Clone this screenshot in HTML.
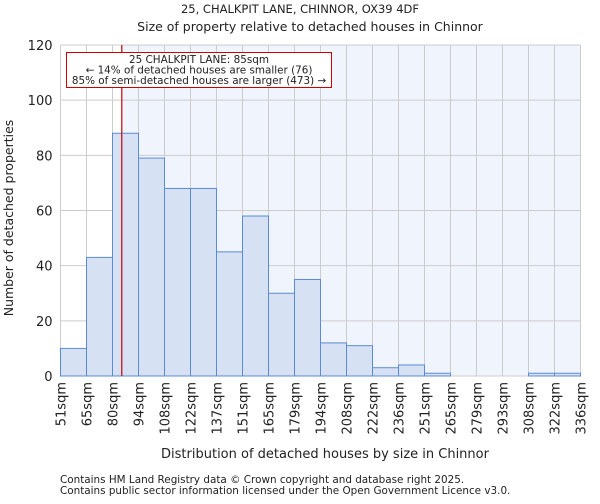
<!DOCTYPE html>
<html><head><meta charset="utf-8"><style>
body{margin:0;background:#fff;font-family:"DejaVu Sans","Liberation Sans",sans-serif}
svg text{font-family:"DejaVu Sans","Liberation Sans",sans-serif;fill:#222}
</style></head><body>
<svg id="c" width="600" height="500" xmlns="http://www.w3.org/2000/svg">
<text x="300" y="13" text-anchor="middle" font-size="11.5">25, CHALKPIT LANE, CHINNOR, OX39 4DF</text>
<text x="310" y="31" text-anchor="middle" font-size="12.5">Size of property relative to detached houses in Chinnor</text>
<rect x="60.5" y="45" width="520" height="331" fill="#f0f4fc"/>
<rect id="wbg" x="60.5" y="45" width="61" height="331" fill="#fff"/>
<g id="grid"></g><g id="bars"></g><g id="axes"></g>
<text transform="translate(13,218) rotate(-90)" text-anchor="middle" font-size="12.5">Number of detached properties</text>
<text x="325" y="458" text-anchor="middle" font-size="13">Distribution of detached houses by size in Chinnor</text>
<text x="60" y="483" font-size="10.4" fill="#444">Contains HM Land Registry data © Crown copyright and database right 2025.</text>
<text x="60" y="494" font-size="10.4" fill="#444">Contains public sector information licensed under the Open Government Licence v3.0.</text>
</svg>
<script>
const labels=["51sqm","65sqm","80sqm","94sqm","108sqm","122sqm","137sqm","151sqm","165sqm","179sqm","194sqm","208sqm","222sqm","236sqm","251sqm","265sqm","279sqm","293sqm","308sqm","322sqm","336sqm"];
const counts=[10,43,88,79,68,68,45,58,30,35,12,11,3,4,1,0,0,0,1,1];
const yTicks=[0,20,40,60,80,100,120];
const propertySize=85;
const edgeValues=[51,65,80,94,108,122,137,151,165,179,194,208,222,236,251,265,279,293,308,322,336];
const NS="http://www.w3.org/2000/svg";
const x0=60.5,x1=580.5,y0=376,y1=45,yMax=120;
const n=counts.length,bw=(x1-x0)/n;
const xs=i=>x0+i*bw, ys=v=>y0-(v/yMax)*(y0-y1);
function mk(t,a,p){const e=document.createElementNS(NS,t);for(const k in a)e.setAttribute(k,a[k]);p.appendChild(e);return e;}
const g=document.getElementById('grid'),b=document.getElementById('bars'),ax=document.getElementById('axes');
let k=0;while(k<edgeValues.length-2&&edgeValues[k+1]<=propertySize)k++;
const px=xs(k)+bw*(propertySize-edgeValues[k])/(edgeValues[k+1]-edgeValues[k]);
document.getElementById('wbg').setAttribute('width',px-x0);
for(let i=0;i<=n;i++){const l=mk('line',{x1:xs(i),x2:xs(i),y1:y1,y2:y0,stroke:'#ccc','stroke-width':1},g);

}
yTicks.forEach(v=>{const l=mk('line',{x1:x0,x2:x1,y1:ys(v),y2:ys(v),stroke:'#ccc','stroke-width':1},g);


const t=mk('text',{x:x0-8,y:ys(v)+5,'text-anchor':'end','font-size':13},ax);t.textContent=v;

});
counts.forEach((v,i)=>{const r=mk('rect',{x:xs(i),y:ys(v),width:bw,height:y0-ys(v),fill:'#d6e1f3',stroke:'#5b8bd6','stroke-width':1},b);

});
labels.forEach((s,i)=>{const t=mk('text',{transform:`translate(${xs(i)+5},382) rotate(-90)`,'text-anchor':'end','font-size':13},ax);t.textContent=s;

});
const rl=mk('line',{x1:px,x2:px,y1:y1,y2:y0,stroke:'#cc0000','stroke-width':1.2},ax);


const box=mk('rect',{x:66.5,y:52.5,width:265,height:35,fill:'#fff',stroke:'#cc0000','stroke-width':1},ax);


["25 CHALKPIT LANE: 85sqm","← 14% of detached houses are smaller (76)","85% of semi-detached houses are larger (473) →"].forEach((s,i)=>{
const t=mk('text',{x:199,y:63+i*10.5,'text-anchor':'middle','font-size':10.4},ax);t.textContent=s;

});
</script>
</body></html>
